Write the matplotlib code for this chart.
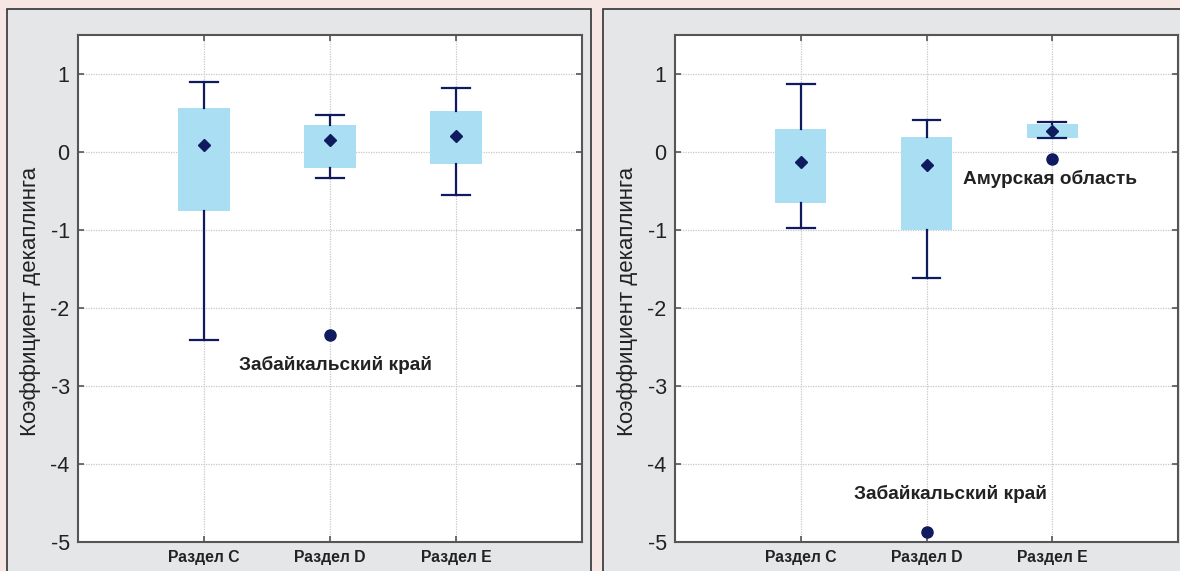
import matplotlib
matplotlib.use('Agg')
import matplotlib.pyplot as plt
from matplotlib.patches import Rectangle

plt.rcParams['font.family'] = ['Liberation Sans', 'DejaVu Sans']

W, H = 1180, 571

# Раздел C / D / E
categories = ['Раздел C', 'Раздел D', 'Раздел E']

# left panel
left_whislo = [-2.41, -0.33, -0.55]
left_q1 = [-0.76, -0.21, -0.15]
left_q3 = [0.57, 0.35, 0.52]
left_whishi = [0.90, 0.47, 0.82]
left_mean = [0.09, 0.16, 0.21]
left_fliers = [[], [-2.34], []]

# right panel
right_whislo = [-0.98, -1.61, 0.18]
right_q1 = [-0.66, -1.00, 0.18]
right_q3 = [0.30, 0.19, 0.36]
right_whishi = [0.87, 0.41, 0.39]
right_mean = [-0.13, -0.17, 0.27]
right_fliers = [[], [-4.87], [-0.09]]

left_notes = [('Забайкальский край', 2.04, -2.73)]
right_notes = [('Амурская область', 2.98, -0.34),
               ('Забайкальский край', 2.19, -4.39)]

BOX = '#aadff3'
NAVY = '#101a5e'


def px_rect(x0, y0, x1, y1):
    # pixel box (top-left origin) -> figure fraction
    return [x0 / W, 1 - y1 / H, (x1 - x0) / W, (y1 - y0) / H]


def draw_panel(ax, whislo, q1, q3, whishi, mean, fliers, notes):
    stats = []
    for i in range(len(categories)):
        stats.append(dict(med=(q1[i] + q3[i]) / 2, q1=q1[i], q3=q3[i],
                          whislo=whislo[i], whishi=whishi[i],
                          mean=mean[i], fliers=fliers[i]))
    ax.bxp(stats, positions=[1, 2, 3], widths=0.405, patch_artist=True,
           showmeans=True, capwidths=0.22,
           boxprops=dict(facecolor=BOX, edgecolor='none', linewidth=0),
           whiskerprops=dict(color=NAVY, linewidth=1.6),
           capprops=dict(color=NAVY, linewidth=1.6),
           medianprops=dict(linewidth=0),
           meanprops=dict(marker='D', markerfacecolor=NAVY,
                          markeredgecolor=NAVY, markersize=6),
           flierprops=dict(marker='o', markerfacecolor=NAVY,
                           markeredgecolor=NAVY, markersize=8))
    for text, x, y in notes:
        ax.text(x, y, text, ha='center', va='center', fontsize=13.7,
                fontweight='bold', color='#222222')
    ax.set_xlim(0, 4)
    ax.set_ylim(-5, 1.5)
    ax.set_xticks([1, 2, 3])
    ax.set_xticklabels(categories, fontsize=11.3, fontweight='bold',
                       color='#222222')
    ax.set_yticks([-5, -4, -3, -2, -1, 0, 1])
    ax.set_yticklabels(['-5', '-4', '-3', '-2', '-1', '0', '1'],
                       fontsize=15.5, color='#222222')
    ax.set_ylabel('Коэффициент декаплинга', fontsize=16, color='#222222')
    ax.yaxis.set_label_coords(-0.073, 0.475)
    ax.tick_params(direction='in', length=4, width=1.2, color='#555555',
                   top=True, right=True, pad=6)
    ax.grid(True, linestyle=(0, (1, 1)), color='#c8c8c8', linewidth=0.9)
    ax.set_axisbelow(True)
    for sp in ax.spines.values():
        sp.set_color('#555555')
        sp.set_linewidth(1.5)
    ax.set_facecolor('white')


fig = plt.figure(figsize=(W / 100, H / 100), dpi=100)
fig.patch.set_facecolor('#f6e7e4')
for x0, x1 in [(7, 591), (603, 1190)]:
    fig.patches.append(Rectangle(
        (x0 / W, 1 - 580 / H), (x1 - x0) / W, (580 - 9) / H,
        transform=fig.transFigure, facecolor='#e5e6e8', edgecolor='#333333',
        linewidth=1.2, zorder=-5))

ax1 = fig.add_axes(px_rect(78, 35, 582, 542))
ax2 = fig.add_axes(px_rect(675, 35, 1178, 542))

draw_panel(ax1, left_whislo, left_q1, left_q3, left_whishi, left_mean,
           left_fliers, left_notes)
draw_panel(ax2, right_whislo, right_q1, right_q3, right_whishi, right_mean,
           right_fliers, right_notes)

fig.savefig('out.png', dpi=100, facecolor=fig.get_facecolor())
